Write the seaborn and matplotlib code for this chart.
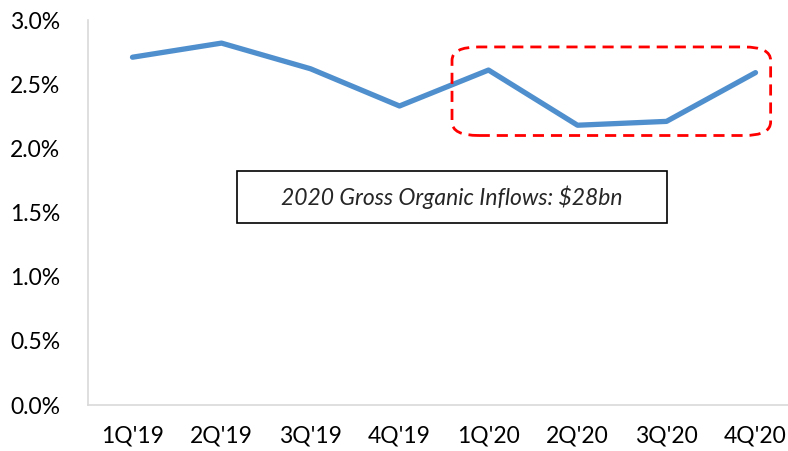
import matplotlib
matplotlib.use("Agg")
import matplotlib.pyplot as plt
import pandas as pd
import seaborn as sns
from matplotlib.patches import FancyBboxPatch, Rectangle
from matplotlib.ticker import FuncFormatter

# Quarterly values (%)
quarters = ["1Q'19", "2Q'19", "3Q'19", "4Q'19", "1Q'20", "2Q'20", "3Q'20", "4Q'20"]
rates = [2.71, 2.82, 2.62, 2.33, 2.61, 2.18, 2.21, 2.59]
y_ticks = [0.0, 0.5, 1.0, 1.5, 2.0, 2.5, 3.0]
note_text = "2020 Gross Organic Inflows: $28bn"

df = pd.DataFrame({"quarter": quarters, "rate": rates})

sns.set_style("white")
plt.rcParams['font.family'] = ['Lato', 'DejaVu Sans']

fig = plt.figure(figsize=(7.88, 4.51), dpi=100)
ax = fig.add_axes([88 / 788, 46 / 451, 712 / 788, 385 / 451])

sns.lineplot(data=df, x="quarter", y="rate", sort=False, color="#4F8FCE",
             linewidth=3.8, ax=ax)

ax.set_xlim(-0.5, 7.5)
ax.set_ylim(0, 3.0)
ax.set_yticks(y_ticks)
ax.yaxis.set_major_formatter(FuncFormatter(lambda v, p: f"{v:.1f}%"))
ax.set_xlabel("")
ax.set_ylabel("")
ax.tick_params(axis="both", length=0, labelsize=16.5, colors="black")
ax.tick_params(axis="x", pad=15)
ax.tick_params(axis="y", pad=20)
for s in ["top", "right"]:
    ax.spines[s].set_visible(False)
for s in ["left", "bottom"]:
    ax.spines[s].set_color("#D9D9D9")
    ax.spines[s].set_linewidth(1.2)

# red dashed highlight around 2020
box = FancyBboxPatch((3.59, 2.10), 3.58, 0.69,
                     boxstyle="round,pad=0,rounding_size=0.3",
                     mutation_aspect=0.35,
                     fill=False, edgecolor="#FF0000", linewidth=2.0,
                     linestyle=(0, (4, 2.5)), zorder=5)
ax.add_patch(box)

# note box
ax.add_patch(Rectangle((1.17, 1.42), 4.84, 0.40, facecolor="white",
                       edgecolor="black", linewidth=1.2, zorder=4))
ax.text(3.59, 1.62, note_text, ha="center", va="center", fontsize=16.5,
        style="italic", zorder=6)

fig.savefig("out.png", dpi=100)
